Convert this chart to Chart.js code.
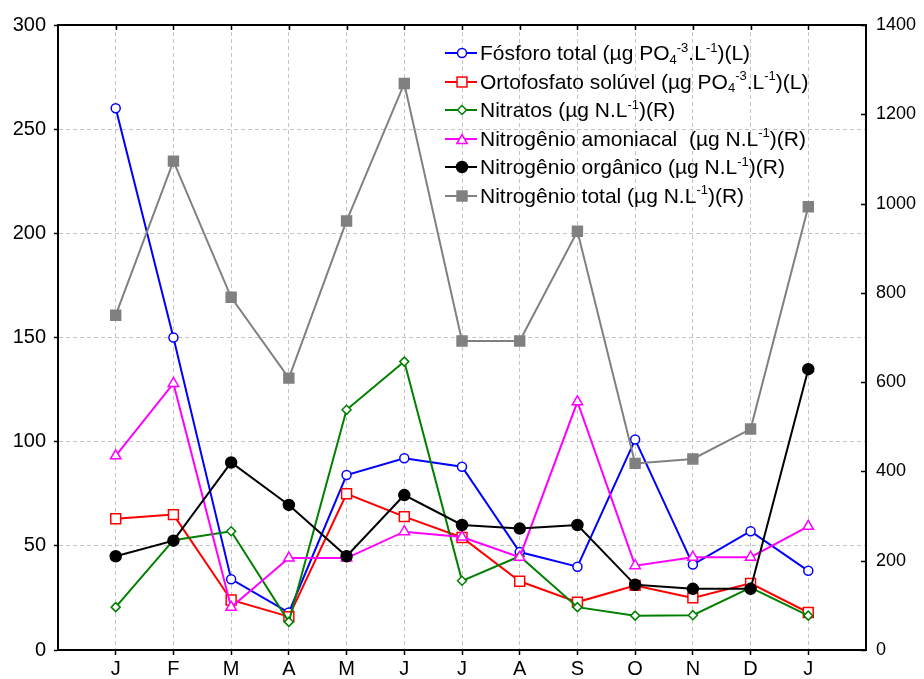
<!DOCTYPE html>
<html>
<head>
<meta charset="utf-8">
<script src="https://cdn.jsdelivr.net/npm/chart.js@4.4.1/dist/chart.umd.min.js"></script>
<style>
html,body{margin:0;padding:0;background:#fff;}
#wrap{position:relative;width:924px;height:679px;}
#legend{position:absolute;left:0;top:0;width:924px;height:679px;pointer-events:none;font-family:"Liberation Sans",Arial,sans-serif;font-size:21px;color:#000;}
.row{position:absolute;left:445px;height:28px;line-height:28px;white-space:nowrap;}
.row svg{position:absolute;left:0;top:0;}
.row .t{position:absolute;left:35px;top:0;}
.sup{font-size:0.62em;position:relative;top:-0.62em;}
.sub{font-size:0.62em;position:relative;top:0.3em;}
</style>
</head>
<body>
<div id="wrap">
<canvas id="c" width="924" height="679"></canvas>
<div id="legend"></div>
</div>
<script>
// ---- data ----
const months = ['J','F','M','A','M','J','J','A','S','O','N','D','J'];
const fosforoTotal    = [260, 150, 34, 18, 84, 92, 88, 47, 40, 101, 41, 57, 38];
const ortofosfato     = [63, 65, 24, 16, 75, 64, 54, 33, 23, 31, 25, 32, 18];
const nitratos        = [96, 246, 266, 63, 538, 646, 155, 210, 96, 77, 78, 140, 77];
const amoniacal       = [435, 597, 96, 206, 206, 265, 253, 208, 556, 189, 208, 208, 277];
const organico        = [210, 245, 420, 325, 210, 347, 280, 272, 280, 146, 137, 137, 629];
const nitrogenioTotal = [750, 1095, 790, 609, 961, 1269, 692, 692, 938, 418, 428, 495, 993];
const leftTicks  = [0, 50, 100, 150, 200, 250, 300];
const rightTicks = [0, 200, 400, 600, 800, 1000, 1200, 1400];

const legendLabels = [
  'Fósforo total (<span>µ</span>g PO<span class="sub">4</span><span class="sup">-3</span>.L<span class="sup">-1</span>)(L)',
  'Ortofosfato solúvel (<span>µ</span>g PO<span class="sub">4</span><span class="sup">-3</span>.L<span class="sup">-1</span>)(L)',
  'Nitratos (<span>µ</span>g N.L<span class="sup">-1</span>)(R)',
  'Nitrogênio amoniacal &nbsp;(<span>µ</span>g N.L<span class="sup">-1</span>)(R)',
  'Nitrogênio orgânico (<span>µ</span>g N.L<span class="sup">-1</span>)(R)',
  'Nitrogênio total (<span>µ</span>g N.L<span class="sup">-1</span>)(R)'
];

const FONT = '"Liberation Sans", Arial, sans-serif';
const toXY = arr => arr.map((v, i) => ({x: i + 1, y: v}));

const styles = [
  {data: fosforoTotal, axis: 'y', color: '#0000ff', ps: 'circle', r: 4.5, fill: '#ffffff', lw: 2},
  {data: ortofosfato, axis: 'y', color: '#ff0000', ps: 'rect', r: 7, fill: '#ffffff', lw: 2},
  {data: nitratos, axis: 'y1', color: '#008000', ps: 'rectRot', r: 4.5, fill: '#ffffff', lw: 2},
  {data: amoniacal, axis: 'y1', color: '#ff00ff', ps: 'triangle', r: 6, fill: '#ffffff', lw: 2},
  {data: organico, axis: 'y1', color: '#000000', ps: 'circle', r: 5.5, fill: '#000000', lw: 2},
  {data: nitrogenioTotal, axis: 'y1', color: '#808080', ps: 'rect', r: 7, fill: '#808080', lw: 2}
];

const datasets = styles.map((s, i) => ({
  label: 'S' + i,
  data: toXY(s.data),
  yAxisID: s.axis,
  borderColor: s.color,
  borderWidth: s.lw,
  backgroundColor: s.fill,
  pointStyle: s.ps,
  pointRadius: s.r,
  pointBorderColor: s.color,
  pointBackgroundColor: s.fill,
  pointBorderWidth: 1.5,
  tension: 0,
  fill: false,
  order: -i
}));

const frameTicks = {
  id: 'frameTicks',
  afterDraw(chart) {
    const {ctx, chartArea: a, scales} = chart;
    ctx.save();
    ctx.strokeStyle = '#000';
    ctx.lineWidth = 2;
    ctx.beginPath();
    ctx.moveTo(a.left - 1, a.top);
    ctx.lineTo(a.right + 1, a.top);
    ctx.stroke();
    ctx.lineWidth = 1.5;
    ctx.beginPath();
    months.forEach((m, i) => {
      const x = Math.round(scales.x.getPixelForValue(i + 1)) + 0.5;
      ctx.moveTo(x, a.top);
      ctx.lineTo(x, a.top + 5);
    });
    rightTicks.forEach(t => {
      const y = Math.round(scales.y1.getPixelForValue(t)) + 0.5;
      ctx.moveTo(a.right, y);
      ctx.lineTo(a.right - 5, y);
    });
    ctx.stroke();
    ctx.restore();
  }
};

new Chart(document.getElementById('c'), {
  type: 'line',
  data: {datasets},
  options: {
    responsive: false,
    animation: false,
    events: [],
    layout: {padding: {top: 25, left: 0, right: 0, bottom: 0}},
    plugins: {legend: {display: false}, tooltip: {enabled: false}},
    scales: {
      x: {
        type: 'linear', position: 'bottom', min: 0, max: 14,
        afterFit: s => { s.height = 29; },
        afterBuildTicks: s => { s.ticks = Array.from({length: 15}, (_, i) => ({value: i})); },
        ticks: {
          autoSkip: false, maxRotation: 0, padding: 2,
          font: {family: FONT, size: 20}, color: '#000',
          callback: v => (v >= 1 && v <= months.length) ? months[v - 1] : ''
        },
        grid: {
          color: c => (c.tick && c.tick.value >= 1 && c.tick.value <= 13) ? '#c4c4c4' : 'rgba(0,0,0,0)',
          tickColor: c => (c.tick && c.tick.value >= 1 && c.tick.value <= 13) ? '#000' : 'rgba(0,0,0,0)',
          tickLength: 5, lineWidth: 1, tickWidth: 1.5
        },
        border: {display: true, color: '#000', width: 2, dash: [4, 3]}
      },
      y: {
        type: 'linear', position: 'left', min: 0, max: 300,
        afterFit: s => { s.width = 58; },
        afterBuildTicks: s => { s.ticks = leftTicks.map(v => ({value: v})); },
        ticks: {font: {family: FONT, size: 20}, color: '#000', padding: 8, callback: v => String(v)},
        grid: {color: '#c4c4c4', tickColor: '#000', tickLength: 4, lineWidth: 1, tickWidth: 1.5},
        border: {display: true, color: '#000', width: 2, dash: [4, 3]}
      },
      y1: {
        type: 'linear', position: 'right', min: 0, max: 1400,
        afterFit: s => { s.width = 58; },
        afterBuildTicks: s => { s.ticks = rightTicks.map(v => ({value: v})); },
        ticks: {font: {family: FONT, size: 18}, color: '#000', padding: 10, callback: v => String(v)},
        grid: {drawOnChartArea: false, drawTicks: false},
        border: {display: true, color: '#000', width: 2}
      }
    }
  },
  plugins: [frameTicks]
});

// ---- HTML legend (real text with sub/superscripts) ----
const legend = document.getElementById('legend');
const rowCenters = [53, 81.5, 110, 138.5, 167, 195.5];
function markerSvg(s) {
  const cx = 17, cy = 14;
  let m = '';
  const sw = 1.5;
  if (s.ps === 'circle') {
    m = `<circle cx="${cx}" cy="${cy}" r="${s.r}" fill="${s.fill}" stroke="${s.color}" stroke-width="${sw}"/>`;
  } else if (s.ps === 'rect') {
    const h = s.r * Math.SQRT1_2;
    m = `<rect x="${cx - h}" y="${cy - h}" width="${2 * h}" height="${2 * h}" fill="${s.fill}" stroke="${s.color}" stroke-width="${sw}"/>`;
  } else if (s.ps === 'rectRot') {
    const r = s.r;
    m = `<polygon points="${cx - r},${cy} ${cx},${cy - r} ${cx + r},${cy} ${cx},${cy + r}" fill="${s.fill}" stroke="${s.color}" stroke-width="${sw}"/>`;
  } else if (s.ps === 'triangle') {
    const r = s.r;
    const p = [0, 1, 2].map(k => {
      const a = -Math.PI / 2 + k * 2 * Math.PI / 3;
      return (cx + r * Math.cos(a)).toFixed(2) + ',' + (cy + r * Math.sin(a) + r * 0.25).toFixed(2);
    }).join(' ');
    m = `<polygon points="${p}" fill="${s.fill}" stroke="${s.color}" stroke-width="${sw}"/>`;
  }
  return `<svg width="34" height="28" viewBox="0 0 34 28"><line x1="0" y1="${cy}" x2="32" y2="${cy}" stroke="${s.color}" stroke-width="${s.lw}"/>${m}</svg>`;
}
styles.forEach((s, i) => {
  const row = document.createElement('div');
  row.className = 'row';
  row.style.top = (rowCenters[i] - 14) + 'px';
  row.innerHTML = markerSvg(s) + `<span class="t">${legendLabels[i]}</span>`;
  legend.appendChild(row);
});
</script>
</body>
</html>
